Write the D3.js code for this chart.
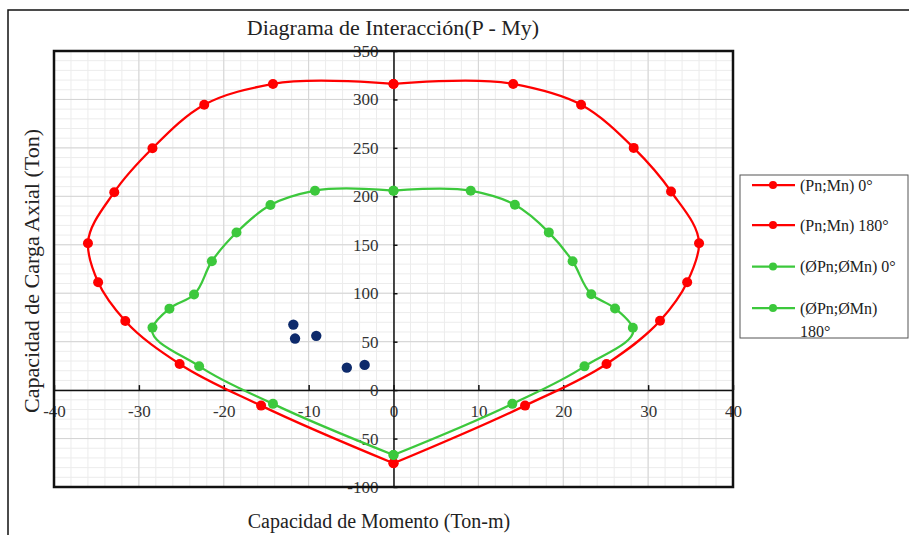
<!DOCTYPE html>
<html>
<head>
<meta charset="utf-8">
<script src="https://cdn.jsdelivr.net/npm/d3@7"></script>
<style>
  body { margin: 0; background: #fff; }
  svg { display: block; }
</style>
</head>
<body>
<div class="chart-box"></div>
<script>
// moment (Ton-m) and axial load (Ton)
var pn0_M   = [0, 14.1, 22.1, 28.3, 32.7, 36.0, 34.6, 31.4, 25.1, 15.5, 0];
var pn0_P   = [316, 316, 294.5, 250, 205, 151.6, 111.4, 71.5, 27, -16, -75.5];
var pn180_M = [0, -14.2, -22.3, -28.4, -32.9, -36.0, -34.8, -31.6, -25.2, -15.6, 0];
var pn180_P = [316, 316, 294.5, 249.6, 204.3, 151.6, 111.4, 71.4, 27, -16, -75.5];
var fpn0_M   = [0, 9.1, 14.3, 18.3, 21.1, 23.3, 26.1, 28.2, 22.5, 14.0, 0];
var fpn0_P   = [205.8, 205.8, 191.3, 162.8, 133, 99, 84.3, 64.4, 24.5, -14.2, -67];
var fpn180_M = [0, -9.25, -14.5, -18.5, -21.4, -23.5, -26.4, -28.4, -22.9, -14.2, 0];
var fpn180_P = [205.8, 205.8, 191, 162.6, 133, 98.6, 84.1, 64.5, 24.7, -14.2, -67];
var load_M = [-11.8, -11.6, -9.1, -5.5, -3.4];
var load_P = [67.6, 53.2, 56, 23.2, 26];

var legend_labels = [["(Pn;Mn) 0°"], ["(Pn;Mn) 180°"], ["(ØPn;ØMn) 0°"], ["(ØPn;ØMn)", "180°"]];
var x_ticks = [-40, -30, -20, -10, 0, 10, 20, 30, 40];
var y_ticks = [-100, -50, 0, 50, 100, 150, 200, 250, 300, 350];

var RED = "#ff0000",
    GREEN = "#3cc83c",
    NAVY = "#0d2a6b";

var SERIF = "'Liberation Serif', 'Times New Roman', serif";

var width = 909,
    height = 535,
    plot = {left: 54, top: 51, right: 733, bottom: 487};

var svg = d3.select('.chart-box').append("svg")
    .attr("width", width)
    .attr("height", height);

// outer chart frame, cut off at right and bottom like the original
svg.append("rect")
    .attr("x", 8).attr("y", 10)
    .attr("width", 1000).attr("height", 1000)
    .attr("fill", "none").attr("stroke", "#111").attr("stroke-width", 1.5);

var x = d3.scaleLinear().domain([-40, 40]).range([plot.left, plot.right]);
var y = d3.scaleLinear().domain([-100, 350]).range([plot.bottom, plot.top]);

function zip(ms, ps) { return ms.map(function(m, i) { return [m, ps[i]]; }); }

// grid
var grid = svg.append("g");
grid.selectAll(".vminor").data(d3.range(-40, 41, 2)).enter().append("line")
    .attr("x1", function(d) { return x(d); }).attr("x2", function(d) { return x(d); })
    .attr("y1", plot.top).attr("y2", plot.bottom)
    .attr("stroke", "#ececec").attr("stroke-width", 1);
grid.selectAll(".hminor").data(d3.range(-100, 351, 10)).enter().append("line")
    .attr("y1", function(d) { return y(d); }).attr("y2", function(d) { return y(d); })
    .attr("x1", plot.left).attr("x2", plot.right)
    .attr("stroke", "#ececec").attr("stroke-width", 1);
grid.selectAll(".vmajor").data(x_ticks).enter().append("line")
    .attr("x1", function(d) { return x(d); }).attr("x2", function(d) { return x(d); })
    .attr("y1", plot.top).attr("y2", plot.bottom)
    .attr("stroke", "#d4d4d4").attr("stroke-width", 1);
grid.selectAll(".hmajor").data(y_ticks).enter().append("line")
    .attr("y1", function(d) { return y(d); }).attr("y2", function(d) { return y(d); })
    .attr("x1", plot.left).attr("x2", plot.right)
    .attr("stroke", "#d4d4d4").attr("stroke-width", 1);

// axes through zero, plain hyphen for negatives
function fmt(d) { return String(d); }
var xAxis = d3.axisBottom(x).tickValues(x_ticks).tickFormat(fmt)
    .tickSizeInner(-5).tickSizeOuter(0).tickPadding(15);
var yAxis = d3.axisLeft(y).tickValues(y_ticks).tickFormat(fmt)
    .tickSizeInner(-4).tickSizeOuter(0).tickPadding(15);

var gx = svg.append("g")
    .attr("transform", "translate(0," + y(0) + ")")
    .call(xAxis);
var gy = svg.append("g")
    .attr("transform", "translate(" + x(0) + ",0)")
    .call(yAxis);
[gx, gy].forEach(function(g) {
  g.attr("font-family", SERIF).attr("font-size", 17);
  g.select(".domain").attr("stroke", "#111").attr("stroke-width", 1.5);
  g.selectAll(".tick line").attr("stroke", "#111").attr("stroke-width", 1.5);
  g.selectAll(".tick text").attr("fill", "#333").attr("font-family", SERIF);
});

// plot border
svg.append("rect")
    .attr("x", plot.left).attr("y", plot.top)
    .attr("width", plot.right - plot.left).attr("height", plot.bottom - plot.top)
    .attr("fill", "none").attr("stroke", "#111").attr("stroke-width", 2.5);

var line = d3.line()
    .x(function(d) { return x(d[0]); })
    .y(function(d) { return y(d[1]); })
    .curve(d3.curveCatmullRom.alpha(1));

var series = [
  {pts: zip(pn0_M, pn0_P), color: RED},
  {pts: zip(pn180_M, pn180_P), color: RED},
  {pts: zip(fpn0_M, fpn0_P), color: GREEN},
  {pts: zip(fpn180_M, fpn180_P), color: GREEN}
];

series.forEach(function(s) {
  svg.append("path")
    .attr("d", line(s.pts))
    .attr("fill", "none")
    .attr("stroke", s.color)
    .attr("stroke-width", 2.25);
  svg.selectAll(null).data(s.pts).enter().append("circle")
    .attr("cx", function(d) { return x(d[0]); })
    .attr("cy", function(d) { return y(d[1]); })
    .attr("r", 5)
    .attr("fill", s.color);
});

svg.selectAll(null).data(zip(load_M, load_P)).enter().append("circle")
    .attr("cx", function(d) { return x(d[0]); })
    .attr("cy", function(d) { return y(d[1]); })
    .attr("r", 5.2)
    .attr("fill", NAVY);

// titles
svg.append("text")
    .attr("x", 393).attr("y", 35)
    .attr("text-anchor", "middle")
    .attr("font-family", SERIF)
    .attr("font-size", 22).attr("fill", "#222")
    .text("Diagrama de Interacción(P - My)");
svg.append("text")
    .attr("x", 379).attr("y", 528)
    .attr("text-anchor", "middle")
    .attr("font-family", SERIF)
    .attr("font-size", 20).attr("fill", "#222")
    .text("Capacidad de Momento (Ton-m)");
svg.append("text")
    .attr("transform", "translate(39,271) rotate(-90)")
    .attr("text-anchor", "middle")
    .attr("font-family", SERIF)
    .attr("font-size", 22).attr("fill", "#222")
    .text("Capacidad de Carga Axial (Ton)");

// legend
var leg = svg.append("g");
leg.append("rect")
    .attr("x", 740).attr("y", 175)
    .attr("width", 168).attr("height", 163)
    .attr("fill", "#fff").attr("stroke", "#555").attr("stroke-width", 1);
var leg_rows = [185, 225, 266.5, 308];
var leg_colors = [RED, RED, GREEN, GREEN];
legend_labels.forEach(function(lbl, i) {
  var ly = leg_rows[i];
  leg.append("line")
    .attr("x1", 752).attr("x2", 795).attr("y1", ly).attr("y2", ly)
    .attr("stroke", leg_colors[i]).attr("stroke-width", 2.25);
  leg.append("circle")
    .attr("cx", 773).attr("cy", ly).attr("r", 4)
    .attr("fill", leg_colors[i]);
  lbl.forEach(function(t, j) {
    leg.append("text")
      .attr("x", 800).attr("y", ly + 5.5 + j * 23)
      .attr("font-family", SERIF)
      .attr("font-size", 16).attr("fill", "#222")
      .text(t);
  });
});
</script>
</body>
</html>
